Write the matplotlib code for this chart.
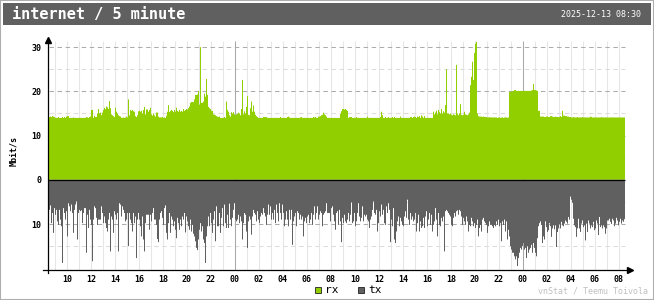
import numpy as np
import matplotlib
matplotlib.use("Agg")
import matplotlib.pyplot as plt
from matplotlib.patches import Rectangle

W, H = 654, 300
plt.rcParams['lines.scale_dashes'] = False
MONO = 'DejaVu Sans Mono'

title = "internet / 5 minute"
stamp = "2025-12-13 08:30"
unit = "Mbit/s"
credit = "vnStat / Teemu Toivola"
start_hour = 8.5      # first sample is 08:30
step_h = 5 / 60       # 5 minute samples

# rx, Mbit/s, 5 minute samples
rx_a = [14.2, 14.3, 14.2, 14.4, 14.3, 14.2, 14.0, 14.0, 14.0, 14.2,
        14.0, 14.0, 14.0, 14.2, 14.0, 14.2, 14.0, 14.3, 14.4, 14.4,
        14.0, 14.0, 14.0, 14.0, 14.1, 14.0, 14.0, 14.0, 14.0, 14.0,
        14.0, 14.0, 14.0, 14.0, 14.0, 14.0, 14.0, 14.2, 14.1, 14.0,
        14.2, 14.3, 15.8, 15.8, 14.0, 14.5, 14.2, 14.2, 15.0, 16.0,
        15.0, 15.2, 14.6, 15.2, 15.8, 16.3, 16.0, 16.6, 16.4, 16.0,
        17.8, 16.2, 14.8, 14.6, 14.4, 14.2, 16.3, 15.4, 15.0, 14.6,
        14.4, 14.3, 14.0, 14.0, 14.1, 14.0, 14.1, 14.3, 14.1, 18.2,
        14.6, 15.8, 15.6, 15.8, 15.5, 15.4, 14.4, 14.2, 14.6, 15.5,
        15.6, 15.4, 15.6, 15.0, 15.8, 16.5, 14.8]
rx_b = [15.9, 15.9, 15.4, 15.8, 16.3, 14.8, 14.5, 15.0, 14.6, 14.3,
        15.2, 15.2, 14.3, 14.1, 14.1, 14.1, 14.2, 14.0, 14.1, 14.0,
        14.5, 15.4, 16.9, 15.3, 15.6, 15.8, 15.6, 15.3, 15.8, 15.4,
        16.3, 15.6, 15.4, 15.8, 15.4, 15.6, 15.4, 16.0, 15.6, 15.8,
        16.0, 15.9, 16.2, 16.6, 17.4, 17.6, 17.6, 17.6, 18.2, 19.2,
        19.2, 19.3, 20.1, 17.0, 30.0, 17.4, 17.4, 17.7, 19.5, 18.8,
        22.8, 19.2, 16.5, 16.2, 16.0, 15.6, 15.6, 14.8, 14.7, 14.6,
        14.4, 14.3, 14.2, 14.3, 14.0, 14.0, 14.0, 14.0, 14.2, 14.0,
        17.7, 15.8, 15.4, 14.6, 14.3, 15.3, 15.0, 15.3, 14.8, 14.6,
        14.8, 14.9, 15.2, 15.0, 14.6, 16.0, 22.6, 14.8, 15.5, 15.0]
rx_c = [16.5, 18.9, 14.7, 14.6, 16.2, 17.7, 15.4, 16.8, 15.4, 14.7,
        14.4, 14.2, 14.0, 14.0, 14.0, 14.0, 14.0, 14.2, 14.2, 14.2,
        14.2, 14.0, 14.0, 14.0, 14.0, 14.0, 14.0, 14.0, 14.0, 14.0,
        14.0, 14.0, 14.0, 14.0, 14.2, 14.0, 14.0, 14.0, 14.0, 14.0,
        14.0, 14.2, 14.3, 14.1, 14.0, 14.0, 14.0, 14.0, 14.0, 14.0,
        14.0, 14.0, 14.0, 14.0, 14.1, 14.2, 14.0, 14.0, 14.0, 14.0,
        14.0, 14.0, 14.0, 14.0, 14.0, 14.0, 14.0, 14.2, 14.1, 14.2,
        14.0, 14.0, 14.3, 14.3, 14.4, 14.6, 14.7, 15.2, 14.8, 14.6,
        14.3, 14.0, 14.0, 14.0, 14.0, 14.0, 14.0, 14.0, 14.0, 14.0,
        14.0, 14.0, 14.0, 14.0, 14.9, 15.5, 16.0, 16.0, 15.9, 16.0]
rx_d = [15.8, 15.6, 14.0, 14.2, 14.2, 14.2, 14.0, 14.0, 14.0, 14.0,
        14.2, 14.0, 14.0, 14.0, 14.0, 14.0, 14.0, 14.0, 14.0, 14.0,
        14.0, 14.3, 14.0, 14.0, 14.0, 14.0, 14.0, 14.0, 14.0, 14.0,
        14.0, 14.0, 14.0, 14.0, 14.2, 15.4, 14.6, 14.0, 14.0, 14.2,
        14.0, 14.0, 14.2, 14.0, 14.0, 14.0, 14.2, 14.0, 14.2, 14.0,
        14.0, 14.0, 14.0, 14.0, 14.3, 14.0, 14.0, 14.0, 14.0, 14.0,
        14.0, 14.0, 14.0, 14.0, 14.2, 14.2, 14.0, 14.2, 14.3, 14.2,
        14.0, 14.3, 14.2, 14.4, 14.0, 14.6, 14.3, 14.0, 14.4, 14.0,
        14.0, 14.0, 14.0, 14.0, 14.0, 14.0, 14.0, 15.4, 14.8, 15.2,
        15.6, 14.8, 15.8, 15.3, 15.0, 16.0, 15.0, 15.5, 15.2, 16.9]
rx_e = [25.0, 15.0, 15.0, 14.8, 15.0, 14.7, 14.6, 14.8, 14.7, 14.6,
        26.0, 15.0, 14.6, 15.0, 17.1, 14.7, 14.6, 14.7, 15.4, 14.8,
        14.7, 14.6, 14.8, 15.2, 21.4, 23.3, 26.7, 22.6, 28.7, 30.8,
        31.2, 15.0, 14.4, 14.3, 14.3, 14.3, 14.2, 14.3, 14.2, 14.2,
        14.2, 14.1, 14.1, 14.2, 14.1, 14.1, 14.1, 14.1, 14.1, 14.1,
        14.1, 14.0, 14.1, 14.1, 14.0, 14.1, 14.1, 14.0, 14.1, 14.1,
        14.1, 14.0, 14.1, 19.9, 19.9, 20.0, 20.0, 20.1, 20.3, 20.3,
        20.1, 20.1, 20.1, 20.1, 20.1, 20.1, 20.1, 20.1, 20.1, 20.1,
        20.1, 20.1, 20.1, 20.1, 20.1, 20.2, 20.3, 21.7, 20.3, 20.3,
        20.2, 20.1, 15.6, 15.6, 14.3, 14.3, 14.3, 14.3, 14.2, 14.2]
rx_f = [14.3, 14.3, 14.2, 14.2, 14.4, 14.4, 14.3, 14.2, 14.2, 14.3,
        14.2, 14.2, 14.2, 14.2, 14.4, 14.2, 15.6, 14.5, 14.5, 14.4,
        14.4, 14.3, 14.3, 14.2, 14.2, 14.1, 14.1, 14.2, 14.1, 14.1,
        14.1, 14.2, 14.1, 14.1, 14.1, 14.1, 14.2, 14.1, 14.1, 14.1,
        14.1, 14.1, 14.1, 14.1, 14.3, 14.2, 14.1, 14.1, 14.1, 14.1,
        14.1, 14.1, 14.1, 14.1, 14.1, 14.2, 14.1, 14.1, 14.1, 14.1,
        14.1, 14.1, 14.1, 14.1, 14.1, 14.1, 14.1, 14.1, 14.1, 14.1,
        14.1, 14.1, 14.1, 14.1, 14.1, 14.1, 14.1, 14.1, 14.1]

# tx, Mbit/s (drawn downwards)
tx_a = [6.8, 5.8, 9.8, 7.5, 12.0, 6.4, 7.9, 6.8, 9.4, 10.2,
        6.8, 9.0, 10.5, 18.8, 6.4, 7.5, 9.0, 7.1, 12.8, 5.3,
        6.0, 7.1, 5.6, 7.5, 12.0, 6.8, 5.6, 4.9, 13.5, 7.5,
        6.8, 7.1, 6.9, 9.8, 7.5, 6.4, 6.4, 16.5, 7.9, 10.9,
        6.8, 9.0, 10.2, 18.4, 9.0, 6.0, 6.4, 8.6, 10.2, 9.0,
        9.0, 9.0, 6.0, 7.5, 9.8, 8.3, 9.8, 10.9, 11.7, 9.0,
        7.5, 16.2, 8.3, 9.0, 12.0, 7.1, 7.9, 9.0, 7.5, 16.2,
        5.3, 5.6, 8.3, 6.0, 6.8, 7.5, 9.4, 9.0, 7.5, 15.0,
        7.5, 9.0, 9.8, 11.7, 7.5, 9.8, 8.3, 17.7, 9.0, 7.5,
        9.0, 10.5, 12.8, 8.3, 13.5, 16.2, 9.8]
tx_b = [7.9, 7.9, 7.9, 11.3, 7.9, 9.4, 7.5, 6.4, 9.0, 9.0,
        10.2, 13.4, 14.1, 9.0, 7.5, 7.1, 8.6, 10.2, 6.4, 5.8,
        12.0, 13.5, 9.8, 7.5, 12.0, 8.3, 9.0, 10.5, 9.4, 11.3,
        13.2, 8.6, 9.8, 11.3, 9.0, 10.5, 8.3, 9.0, 7.5, 11.9,
        8.3, 9.4, 10.5, 11.3, 9.0, 11.7, 10.2, 12.2, 12.8, 13.9,
        15.4, 15.9, 13.5, 11.3, 9.8, 11.7, 10.5, 13.5, 14.3, 18.8,
        12.8, 10.5, 8.3, 10.5, 7.5, 9.8, 12.0, 9.0, 7.1, 13.9,
        6.0, 10.5, 10.5, 7.5, 12.0, 8.6, 6.4, 10.5, 5.6, 9.8,
        10.9, 7.9, 10.9, 5.4, 9.0, 10.5, 8.6, 6.8, 5.3, 9.0,
        9.4, 9.0, 7.9, 9.8, 8.3, 9.4, 13.5, 9.8, 7.5, 7.9]
tx_c = [11.7, 15.4, 9.4, 8.3, 9.0, 12.4, 8.3, 6.8, 7.5, 7.9,
        9.4, 7.1, 9.0, 9.8, 8.3, 7.5, 7.9, 6.4, 7.5, 8.3,
        10.2, 7.9, 5.6, 7.9, 6.0, 9.0, 7.5, 9.0, 6.8, 9.8,
        5.6, 7.5, 9.4, 5.3, 7.5, 9.0, 5.6, 7.5, 10.5, 9.0,
        7.1, 9.0, 10.5, 6.8, 9.0, 6.8, 14.7, 9.4, 8.3, 7.5,
        10.5, 7.1, 7.5, 9.0, 7.9, 9.0, 8.3, 12.8, 9.4, 8.6,
        9.8, 8.3, 7.9, 9.8, 9.0, 7.5, 10.2, 7.9, 6.0, 9.0,
        7.5, 6.0, 9.0, 7.9, 7.1, 7.5, 10.5, 7.9, 7.5, 7.1,
        5.3, 7.5, 7.5, 7.5, 9.4, 6.4, 6.0, 7.9, 9.4, 11.3,
        7.5, 7.1, 10.2, 6.8, 9.4, 14.1, 8.6, 9.8, 7.9, 9.4]
tx_d = [9.8, 9.0, 7.5, 9.4, 7.9, 5.1, 9.8, 9.4, 7.5, 10.5,
        9.4, 7.5, 5.3, 8.3, 9.4, 8.6, 6.0, 9.4, 7.9, 8.3,
        7.9, 9.0, 9.4, 10.9, 9.0, 8.3, 6.8, 4.9, 7.5, 7.9,
        6.8, 11.7, 9.8, 7.1, 8.3, 5.6, 7.9, 6.8, 9.8, 10.2,
        6.0, 7.5, 5.3, 6.8, 14.1, 9.0, 10.5, 6.4, 13.5, 14.3,
        11.7, 9.4, 8.3, 10.5, 8.6, 9.4, 10.2, 10.5, 8.3, 7.1,
        8.6, 4.5, 9.0, 10.2, 7.5, 9.0, 8.3, 9.4, 9.0, 7.5,
        11.7, 9.8, 7.9, 11.7, 9.4, 10.9, 10.5, 8.6, 10.9, 8.3,
        7.1, 10.5, 9.0, 7.5, 10.2, 7.9, 11.7, 10.2, 9.4, 6.4,
        9.0, 12.8, 7.5, 10.2, 10.5, 8.6, 9.4, 8.3, 16.2, 7.1]
tx_e = [6.8, 7.1, 7.5, 7.9, 8.3, 10.2, 10.5, 8.6, 7.5, 8.3,
        7.1, 6.9, 7.9, 6.8, 7.1, 8.3, 10.2, 8.6, 9.4, 10.2,
        8.3, 9.4, 11.7, 10.2, 10.5, 8.6, 9.4, 10.5, 9.8, 10.9,
        10.2, 9.0, 12.8, 10.9, 10.2, 11.7, 9.0, 8.6, 9.4, 9.8,
        10.2, 12.0, 10.5, 9.4, 10.2, 10.2, 10.5, 10.9, 10.2, 10.5,
        9.4, 10.2, 9.0, 10.5, 9.8, 13.9, 9.4, 10.2, 9.0, 11.7,
        9.4, 13.5, 11.3, 12.8, 15.0, 15.8, 16.5, 16.5, 17.3, 18.0,
        17.3, 19.5, 17.7, 16.5, 15.4, 15.8, 15.0, 14.3, 15.8, 15.4,
        17.7, 15.0, 16.5, 15.8, 15.4, 14.7, 16.5, 14.3, 15.4, 16.5,
        17.3, 13.2, 10.5, 9.8, 9.4, 10.2, 14.3, 12.8, 13.5, 9.4]
tx_f = [10.7, 11.8, 11.4, 9.8, 10.5, 12.9, 11.0, 10.3, 11.2, 10.3,
        15.2, 11.8, 11.0, 10.0, 11.0, 9.5, 10.3, 10.5, 9.9, 9.2,
        9.5, 9.9, 8.4, 9.0, 3.8, 4.5, 5.2, 8.8, 10.3, 10.7,
        12.9, 11.0, 8.8, 11.0, 11.8, 9.9, 9.2, 10.7, 10.3, 13.7,
        9.9, 11.8, 9.2, 9.9, 11.0, 10.3, 10.7, 9.5, 11.4, 11.0,
        9.2, 9.9, 12.5, 8.4, 10.7, 10.3, 11.0, 10.3, 10.7, 12.2,
        11.0, 9.2, 9.2, 8.8, 9.5, 10.0, 8.8, 9.2, 10.5, 9.9,
        8.6, 9.2, 10.3, 9.5, 8.8, 9.9, 9.2, 9.5, 8.9]

rx = np.array(rx_a + rx_b + rx_c + rx_d + rx_e + rx_f)
tx = np.array(tx_a + tx_b + tx_c + tx_d + tx_e + tx_f)

hour_labels = ['10', '12', '14', '16', '18', '20', '22', '00', '02', '04', '06', '08',
               '10', '12', '14', '16', '18', '20', '22', '00', '02', '04', '06', '08']
y_ticks = [-10, 0, 10, 20, 30]
y_labels = ['10', '0', '10', '20', '30']
major_lines = [-10, 10, 20, 30]
minor_lines = [-15, -5, 5, 15, 25]

RX_C = '#92cf00'
TX_C = '#606060'

fig = plt.figure(figsize=(W / 100, H / 100), dpi=100)
fig.patch.set_facecolor('white')


def frect(x, y, w, h, **kw):
    # rectangle given in pixel coords, top-left origin
    r = Rectangle((x / W, 1 - (y + h) / H), w / W, h / H,
                  transform=fig.transFigure, **kw)
    fig.add_artist(r)


# outer edge + header
frect(0, 0, W, H, fill=False, edgecolor='#aeaeae', lw=1.5)
frect(3, 3, 648, 22, facecolor='#606060', edgecolor='none')
fig.text(12 / W, 1 - 14.5 / H, title, color='white', fontsize=11,
         fontweight='bold', family=MONO, ha='left', va='center')
fig.text(641 / W, 1 - 14.5 / H, stamp, color='white', fontsize=6,
         family=MONO, ha='right', va='center')

ax = fig.add_axes([48 / W, 1 - 270 / H, (632 - 48) / W, (270 - 37) / H])
ax.set_facecolor('white')
for s in ax.spines.values():
    s.set_visible(False)

x_left = -1 / 12
x_right = 583 / 12
y_bot, y_top = -20.4, 32.3
ax.set_xlim(x_left, x_right)
ax.set_ylim(y_bot, y_top)

n = len(rx)
edges = np.arange(n + 1) * step_h
t_end = edges[-1]

# hour grid
hours = np.arange(0.5, t_end, 1.0)
for t in hours:
    midnight = (t + start_hour) % 24 == 0
    ax.vlines(t, y_bot, 31.4, color='#a8a8a8' if midnight else '#e6e6e6',
              lw=0.75, zorder=1 if midnight else 0.5)
ax.hlines(minor_lines, 0, t_end, color='#dcdcdc', lw=0.75,
          linestyles=(0, (3.2, 2.6)), zorder=0.6)
ax.hlines(major_lines, 0, t_end, color='#acacac', lw=0.75,
          linestyles=(0, (3.2, 2.6)), zorder=0.7)

ax.stairs(rx, edges, baseline=0, fill=True, color=RX_C, lw=0, zorder=2)
ax.stairs(-tx, edges, baseline=0, fill=True, color=TX_C, lw=0, zorder=2)
ax.hlines(0, x_left, t_end, color='black', lw=0.9, zorder=3)

# axes with arrow heads
ax.plot([x_left, x_left], [y_bot - 0.7, y_top - 0.6], color='black', lw=0.9,
        clip_on=False, zorder=4)
ax.plot([x_left - 0.42, x_right - 0.1], [y_bot, y_bot], color='black', lw=0.9,
        clip_on=False, zorder=4)
ax.plot([x_left], [y_top - 0.6], marker='^', ms=4, color='black',
        clip_on=False, zorder=5)
ax.plot([x_right - 0.2], [y_bot], marker='>', ms=4, color='black',
        clip_on=False, zorder=5)

# tick labels
tick_t = []
day, prev = 0, -1
for lab in hour_labels:
    h = int(lab)
    if h < prev:
        day += 1
    tick_t.append(day * 24 + h - start_hour)
    prev = h
ax.set_xticks(tick_t, hour_labels, fontsize=6, fontweight='bold', family=MONO)
ax.set_yticks(y_ticks, y_labels, fontsize=6, fontweight='bold', family=MONO)
ax.tick_params(axis='x', length=0, pad=3.5)
ax.tick_params(axis='y', length=0, pad=4.5)

fig.text(14 / W, 1 - 151 / H, unit, rotation=90, fontsize=6,
         fontweight='bold', family=MONO, ha='center', va='center')

# legend
frect(315, 287, 6, 6, facecolor=RX_C, edgecolor='#202020', lw=0.6)
fig.text(325 / W, 1 - 290 / H, 'rx', fontsize=8, family=MONO,
         ha='left', va='center')
frect(358, 287, 6, 6, facecolor=TX_C, edgecolor='#202020', lw=0.6)
fig.text(368 / W, 1 - 290 / H, 'tx', fontsize=8, family=MONO,
         ha='left', va='center')
fig.text(648 / W, 1 - 291 / H, credit, fontsize=6, family=MONO,
         color='#c0c0c0', ha='right', va='center')

fig.savefig('out.png', dpi=100)
